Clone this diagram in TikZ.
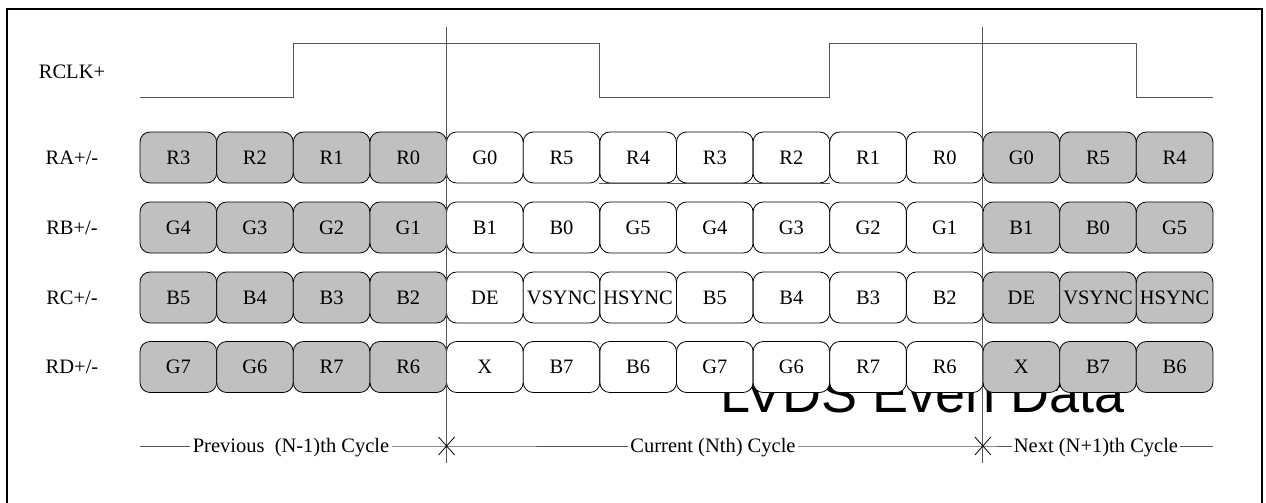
\documentclass[tikz,border=0pt]{standalone}
\usepackage{fontspec}
\usepackage{tikz}
\setmainfont{Liberation Serif}
\newfontfamily\lvdsfont{Liberation Sans}

\definecolor{bitgray}{RGB}{192,192,192}
\definecolor{wavegray}{RGB}{85,85,85}

\tikzset{
  txt/.style={font=\fontsize{10.25}{12}\selectfont, text height=6.8pt, text depth=0pt},
  bit/.style={txt, draw, fill=white, rounded corners=5pt, minimum width=38.3pt, minimum height=25.5pt, inner sep=0pt},
  oldbit/.style={bit, fill=bitgray},
  cellfor/.code={\ifnum#1<5 \tikzset{oldbit}\else\ifnum#1>11 \tikzset{oldbit}\else\tikzset{bit}\fi\fi},
  wave/.style={wavegray, line width=0.5pt},
  cyc/.style={txt, inner xsep=1pt, inner ysep=0pt}
}

\begin{document}
\begin{tikzpicture}[x=0.5pt, y=-0.5pt]

\useasboundingbox (0,0) rectangle (1266,503);

\draw[black, line width=1pt] (7,9) rectangle (1262,540);

% big caption, partly behind the bits
\node[anchor=base west, font=\lvdsfont\fontsize{27}{30}\selectfont, inner sep=0pt] (title) at (720,412) {LVDS Even Data};

\node[txt] (clklbl) at (72,72) {RCLK+};

\node[txt] (ralbl) at (72,157.5) {RA+/-};

\node[txt] (rblbl) at (72,227.5) {RB+/-};

\node[txt] (rclbl) at (72,297.5) {RC+/-};

\node[txt] (rdlbl) at (72,367) {RD+/-};

\draw[wave] (140,97) -- (293.3,97) -- (293.3,43) -- (599.8,43) -- (599.8,97) -- (829.6,97) -- (829.6,43) -- (1136.2,43) -- (1136.2,97) -- (1213,97);

\foreach \b [count=\i] in {R3,R2,R1,R0,G0,R5,R4,R3,R2,R1,R0,G0,R5,R4}
  \node[cellfor=\i] (ra\i) at ({140+76.64*(\i-0.5)},157.5) {\b};

\foreach \b [count=\i] in {G4,G3,G2,G1,B1,B0,G5,G4,G3,G2,G1,B1,B0,G5}
  \node[cellfor=\i] (rb\i) at ({140+76.64*(\i-0.5)},227.5) {\b};

\foreach \b [count=\i] in {B5,B4,B3,B2,DE,VSYNC,HSYNC,B5,B4,B3,B2,DE,VSYNC,HSYNC}
  \node[cellfor=\i] (rc\i) at ({140+76.64*(\i-0.5)},297.5) {\b};

\foreach \b [count=\i] in {G7,G6,R7,R6,X,B7,B6,G7,G6,R7,R6,X,B7,B6}
  \node[cellfor=\i] (rd\i) at ({140+76.64*(\i-0.5)},367) {\b};

\draw[wave] (ra7.south west) -- (ra9.south east);

% cycle borders
\coordinate (cut1top) at (446.6,27);
\coordinate (cut1bot) at (446.6,463);
\coordinate (cut2top) at (982.9,27);
\coordinate (cut2bot) at (982.9,463);

\draw[wave] (cut1top) -- (cut1bot);

\draw[wave] (cut2top) -- (cut2bot);

\coordinate (cycstart) at (140,446);
\coordinate (mark1) at (446.6,446);
\coordinate (mark2) at (982.9,446);
\coordinate (cycend) at (1213,446);

\node[cyc] (prev) at (291,446) {Previous\ \ (N-1)th Cycle};

\node[cyc] (cur) at (713,446) {Current (Nth) Cycle};

\node[cyc] (next) at (1096,446) {Next (N+1)th Cycle};

\draw[wave] (cycstart) -- (prev) -- (mark1) -- (cur) -- (mark2) -- (next) -- (cycend);

\draw[thin] ([shift={(-8,-9)}]mark1) -- ([shift={(8,9)}]mark1);
\draw[thin] ([shift={(-8,9)}]mark1) -- ([shift={(8,-9)}]mark1);

\draw[thin] ([shift={(-8,-9)}]mark2) -- ([shift={(8,9)}]mark2);
\draw[thin] ([shift={(-8,9)}]mark2) -- ([shift={(8,-9)}]mark2);

\end{tikzpicture}
\end{document}
